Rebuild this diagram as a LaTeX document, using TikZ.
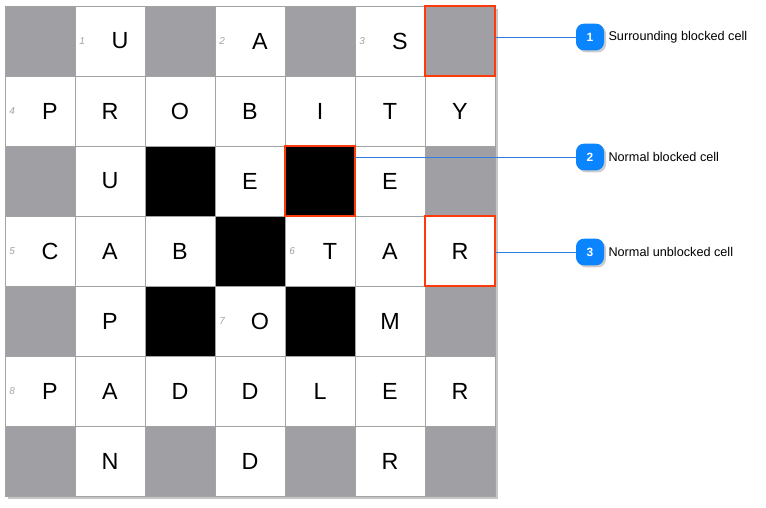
\documentclass[tikz,border=0pt]{standalone}
\usepackage{fontspec}
\setmainfont{Liberation Sans}
\usetikzlibrary{positioning,shadows}
\definecolor{cellgrey}{HTML}{A09FA4}
\definecolor{gridgrey}{HTML}{A3A3A3}
\definecolor{markred}{HTML}{FF3A0A}
\definecolor{badgeblue}{HTML}{0A84FF}
\definecolor{linkblue}{HTML}{2A7FE0}
\begin{document}
\begin{tikzpicture}[x=0.75pt,y=-0.75pt,
    board/.style={minimum size=367.5pt,inner sep=0pt,outer sep=0pt,fill=white,draw=gridgrey,
      drop shadow={shadow xshift=2pt,shadow yshift=-2pt,opacity=0.45}},
    cell/.style={draw=gridgrey,line width=0.75pt,minimum size=52.5pt,inner sep=0pt,outer sep=0pt,
      font=\fontsize{17.5}{20}\selectfont},
    surround/.style={fill=cellgrey},
    blocked/.style={fill=black},
    numbered/.style={execute at begin node=\hspace{15pt}},
    numtext/.style={font=\fontsize{7.5}{9}\selectfont\itshape,text=gridgrey,inner sep=0pt,
      anchor=west,xshift=3pt},
    marked/.style={draw=markred,line width=2.2pt},
    badge/.style={fill=badgeblue,rounded corners=6pt,minimum width=21pt,minimum height=20pt,
      inner sep=0pt,text=white,font=\bfseries\fontsize{9}{10}\selectfont,
      drop shadow={shadow xshift=1.5pt,shadow yshift=-1.5pt,opacity=0.4}},
    note/.style={font=\fontsize{9.5}{11}\selectfont,inner sep=0pt},
    link/.style={draw=linkblue,line width=0.75pt}]
  \useasboundingbox (0,0) rectangle (766,507);
  \node[board] (board) at (250,251) {};
  \path[every node/.style=cell]
    (40,41) node[surround] (a1) {}
    (110,41) node[numbered] (b1) {U}
    (180,41) node[surround] (c1) {}
    (250,41) node[numbered] (d1) {A}
    (320,41) node[surround] (e1) {}
    (390,41) node[numbered] (f1) {S}
    (460,41) node[surround] (g1) {}
    (40,111) node[numbered] (a2) {P}
    (110,111) node (b2) {R}
    (180,111) node (c2) {O}
    (250,111) node (d2) {B}
    (320,111) node (e2) {I}
    (390,111) node (f2) {T}
    (460,111) node (g2) {Y}
    (40,181) node[surround] (a3) {}
    (110,181) node (b3) {U}
    (180,181) node[blocked] (c3) {}
    (250,181) node (d3) {E}
    (320,181) node[blocked] (e3) {}
    (390,181) node (f3) {E}
    (460,181) node[surround] (g3) {}
    (40,251) node[numbered] (a4) {C}
    (110,251) node (b4) {A}
    (180,251) node (c4) {B}
    (250,251) node[blocked] (d4) {}
    (320,251) node[numbered] (e4) {T}
    (390,251) node (f4) {A}
    (460,251) node (g4) {R}
    (40,321) node[surround] (a5) {}
    (110,321) node (b5) {P}
    (180,321) node[blocked] (c5) {}
    (250,321) node[numbered] (d5) {O}
    (320,321) node[blocked] (e5) {}
    (390,321) node (f5) {M}
    (460,321) node[surround] (g5) {}
    (40,391) node[numbered] (a6) {P}
    (110,391) node (b6) {A}
    (180,391) node (c6) {D}
    (250,391) node (d6) {D}
    (320,391) node (e6) {L}
    (390,391) node (f6) {E}
    (460,391) node (g6) {R}
    (40,461) node[surround] (a7) {}
    (110,461) node (b7) {N}
    (180,461) node[surround] (c7) {}
    (250,461) node (d7) {D}
    (320,461) node[surround] (e7) {}
    (390,461) node (f7) {R}
    (460,461) node[surround] (g7) {};
  \path[every node/.style=numtext]
    (b1.west) node (num1) {1}
    (d1.west) node (num2) {2}
    (f1.west) node (num3) {3}
    (a2.west) node (num4) {4}
    (a4.west) node (num5) {5}
    (e4.west) node (num6) {6}
    (d5.west) node (num7) {7}
    (a6.west) node (num8) {8};
  \draw[marked] (g1.north west) rectangle (g1.south east);
  \draw[marked] (e3.north west) rectangle (e3.south east);
  \draw[marked] (g4.north west) rectangle (g4.south east);
  \node[badge] (callout1) at (590,37) {1};
  \node[badge] (callout2) at (590,157) {2};
  \node[badge] (callout3) at (590,252) {3};
  \node[note,right=3pt of callout1] (note1) {Surrounding blocked cell};
  \node[note,right=3pt of callout2] (note2) {Normal blocked cell};
  \node[note,right=3pt of callout3] (note3) {Normal unblocked cell};
  \draw[link] (g1.east |- callout1) -- (callout1);
  \draw[link] (e3.east |- callout2) -- (callout2);
  \draw[link] (g4.east |- callout3) -- (callout3);
\end{tikzpicture}
\end{document}
